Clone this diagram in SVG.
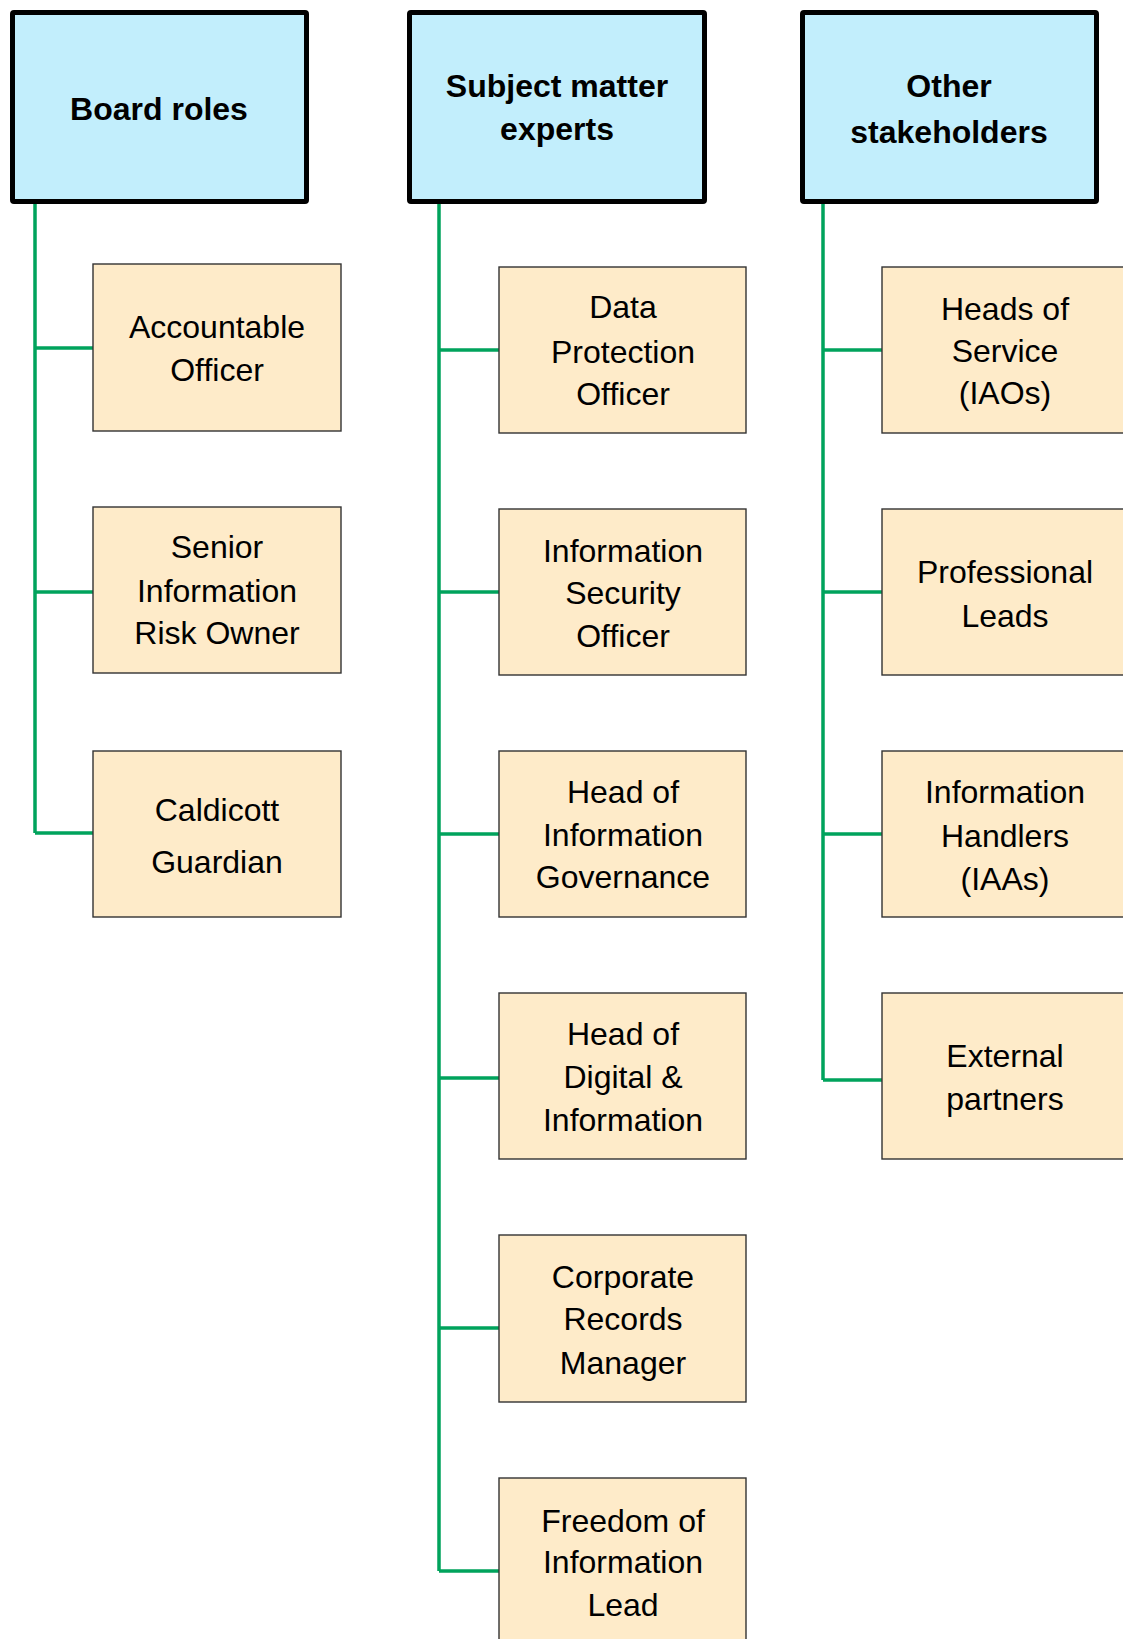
<svg xmlns="http://www.w3.org/2000/svg" width="1123" height="1639" viewBox="0 0 1123 1639">
<style>
.hdr rect{fill:#C2EEFC;stroke:#000;stroke-width:5;}
.hdr text{font-family:"Liberation Sans",Arial,sans-serif;font-weight:bold;font-size:32px;fill:#000;text-anchor:middle;}
.box rect{fill:#FEEBC9;stroke:#333;stroke-width:1.4;}
.box text{font-family:"Liberation Sans",Arial,sans-serif;font-size:32px;fill:#000;text-anchor:middle;}
.conn path{fill:none;stroke:#00A35C;stroke-width:3.5;}
</style>
<rect width="1123" height="1639" fill="#fff"/>
<g class="conn" id="connectors">
<path d="M35 204 V833 M35 348 H93 M35 592 H93 M35 833 H93"/>
<path d="M439 204 V1571 M439 350 H499 M439 592 H499 M439 834 H499 M439 1078 H499 M439 1328 H499 M439 1571 H499"/>
<path d="M823 204 V1080 M823 350 H882 M823 592 H882 M823 834 H882 M823 1080 H882"/>
</g>
<g class="hdr" id="board-roles"><rect x="12.5" y="12.5" width="294" height="189" rx="1.5"/><text x="159" y="120">Board roles</text></g>
<g class="hdr" id="subject-matter-experts"><rect x="409.5" y="12.5" width="295" height="189" rx="1.5"/><text x="557" y="97">Subject matter</text><text x="557" y="140">experts</text></g>
<g class="hdr" id="other-stakeholders"><rect x="802.5" y="12.5" width="294" height="189" rx="1.5"/><text x="949" y="97">Other</text><text x="949" y="143">stakeholders</text></g>

<g class="box" id="accountable-officer"><rect x="93" y="264" width="248" height="167"/><text x="217" y="338">Accountable</text><text x="217" y="381">Officer</text></g>
<g class="box" id="siro"><rect x="93" y="507" width="248" height="166"/><text x="217" y="558">Senior</text><text x="217" y="602">Information</text><text x="217" y="644">Risk Owner</text></g>
<g class="box" id="caldicott"><rect x="93" y="751" width="248" height="166"/><text x="217" y="821">Caldicott</text><text x="217" y="873">Guardian</text></g>

<g class="box" id="dpo"><rect x="499" y="267" width="247" height="166"/><text x="623" y="318">Data</text><text x="623" y="363">Protection</text><text x="623" y="405">Officer</text></g>
<g class="box" id="iso"><rect x="499" y="509" width="247" height="166"/><text x="623" y="562">Information</text><text x="623" y="604">Security</text><text x="623" y="647">Officer</text></g>
<g class="box" id="hig"><rect x="499" y="751" width="247" height="166"/><text x="623" y="803">Head of</text><text x="623" y="846">Information</text><text x="623" y="888">Governance</text></g>
<g class="box" id="hdi"><rect x="499" y="993" width="247" height="166"/><text x="623" y="1045">Head of</text><text x="623" y="1088">Digital &amp;</text><text x="623" y="1131">Information</text></g>
<g class="box" id="crm"><rect x="499" y="1235" width="247" height="167"/><text x="623" y="1288">Corporate</text><text x="623" y="1330">Records</text><text x="623" y="1374">Manager</text></g>
<g class="box" id="foi"><rect x="499" y="1478" width="247" height="166"/><text x="623" y="1532">Freedom of</text><text x="623" y="1573">Information</text><text x="623" y="1616">Lead</text></g>

<g class="box" id="heads-of-service"><rect x="882" y="267" width="247" height="166"/><text x="1005" y="320">Heads of</text><text x="1005" y="362">Service</text><text x="1005" y="404">(IAOs)</text></g>
<g class="box" id="professional-leads"><rect x="882" y="509" width="247" height="166"/><text x="1005" y="583">Professional</text><text x="1005" y="627">Leads</text></g>
<g class="box" id="information-handlers"><rect x="882" y="751" width="247" height="166"/><text x="1005" y="803">Information</text><text x="1005" y="847">Handlers</text><text x="1005" y="890">(IAAs)</text></g>
<g class="box" id="external-partners"><rect x="882" y="993" width="247" height="166"/><text x="1005" y="1067">External</text><text x="1005" y="1110">partners</text></g>
</svg>
